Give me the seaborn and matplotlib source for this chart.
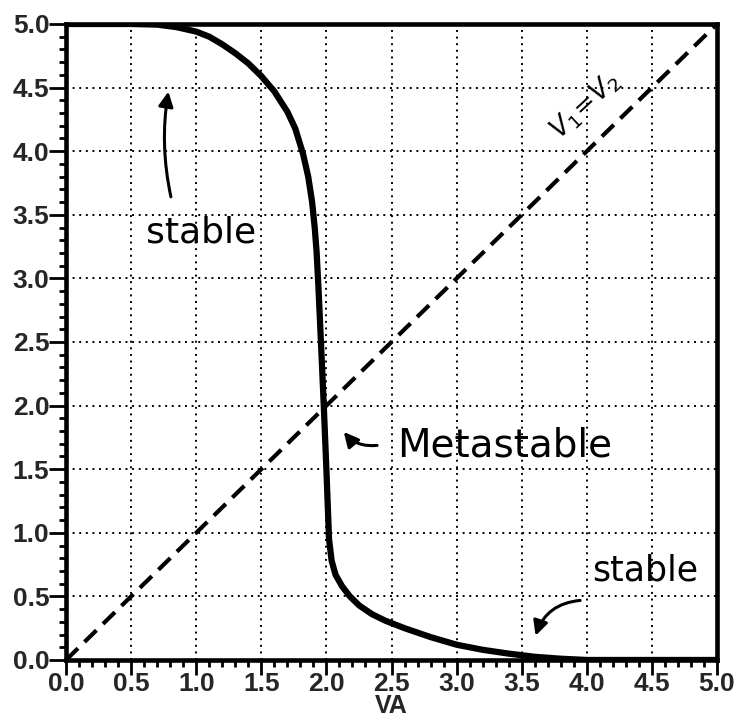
import matplotlib
matplotlib.use("Agg")
import matplotlib.pyplot as plt
from matplotlib.ticker import MultipleLocator
import seaborn as sns

# ---- data ----
curve_x = [0.0, 0.5, 0.7, 0.85, 1.0, 1.1, 1.2, 1.3, 1.4, 1.5, 1.6, 1.7, 1.76, 1.82,
           1.86, 1.89, 1.91, 1.925, 1.94, 1.96, 1.98, 2.0, 2.02, 2.04, 2.07, 2.12,
           2.18, 2.25, 2.35, 2.45, 2.6, 2.8, 3.0, 3.2, 3.4, 3.6, 3.8, 4.0, 5.0]
curve_y = [5.0, 5.0, 4.995, 4.975, 4.94, 4.9, 4.84, 4.77, 4.69, 4.59, 4.47, 4.31, 4.18, 3.98,
           3.8, 3.6, 3.4, 3.2, 2.9, 2.45, 1.99, 1.49, 0.95, 0.78, 0.67, 0.58,
           0.50, 0.43, 0.36, 0.31, 0.25, 0.18, 0.12, 0.08, 0.05, 0.025, 0.01, 0.0, 0.0]
diag_x = [0.0, 5.0]
diag_y = [0.0, 5.0]
tick_vals = [0.0, 0.5, 1.0, 1.5, 2.0, 2.5, 3.0, 3.5, 4.0, 4.5, 5.0]
tick_labels = ["0.0", "0.5", "1.0", "1.5", "2.0", "2.5", "3.0", "3.5", "4.0", "4.5", "5.0"]
x_label = "VA"

sns.set_style("white")
plt.rcParams['font.family'] = ['Liberation Sans', 'DejaVu Sans']

fig = plt.figure(figsize=(7.37, 7.18), dpi=100)
ax = fig.add_axes([0.0896, 0.0808, 0.8833, 0.8858])

sns.lineplot(x=diag_x, y=diag_y, ax=ax, color="black", linewidth=3.0,
             linestyle=(0, (4, 2.2)), sort=False, zorder=3)
sns.lineplot(x=curve_x, y=curve_y, ax=ax, color="black", linewidth=4.5,
             sort=False, zorder=4, solid_capstyle="round", solid_joinstyle="round")

ax.set_xlim(0, 5)
ax.set_ylim(0, 5)
ax.set_xticks(tick_vals)
ax.set_yticks(tick_vals)
ax.xaxis.set_minor_locator(MultipleLocator(0.1))
ax.yaxis.set_minor_locator(MultipleLocator(0.1))

narrow = ['Liberation Sans Narrow', 'Liberation Sans', 'DejaVu Sans']
ax.set_xticklabels(tick_labels, fontsize=19, fontweight="bold", family=narrow)
ax.set_yticklabels(tick_labels, fontsize=19, fontweight="bold")
ax.tick_params(axis="x", which="major", direction="out", length=11, width=2, color="black",
               pad=-2, bottom=True)
ax.tick_params(axis="y", which="major", direction="out", length=12, width=2, color="black",
               pad=0, left=True)
ax.tick_params(which="minor", direction="out", length=5, width=2, color="black",
               bottom=True, left=True)
ax.set_xlabel(x_label, fontsize=18, fontweight="bold", family=narrow, va="top")
ax.xaxis.set_label_coords(0.5, -0.054)

ax.grid(True, which="major", color="black", linewidth=1.4, linestyle=(0, (1, 2.4)))
for s in ax.spines.values():
    s.set_visible(True)
    s.set_color("black")
    s.set_linewidth(3.3)

hand = dict(color="black", family=['DejaVu Sans'], fontweight="normal")
ax.text(1.04, 3.36, "stable", fontsize=26, ha="center", va="center", **hand)
ax.text(3.37, 1.69, "Metastable", fontsize=28, ha="center", va="center", **hand)
ax.text(4.45, 0.70, "stable", fontsize=25, ha="center", va="center", **hand)
ax.text(3.99, 4.36, r"$V_1\!=\!V_2$", fontsize=19, ha="center", va="center",
        rotation=43, color="black")

arr = dict(arrowstyle="-|>", color="black", lw=2.2, mutation_scale=22)
ax.annotate("", xy=(0.79, 4.49), xytext=(0.81, 3.62),
            arrowprops=dict(connectionstyle="arc3,rad=-0.1", **arr))
ax.annotate("", xy=(2.12, 1.81), xytext=(2.41, 1.69),
            arrowprops=dict(connectionstyle="arc3,rad=-0.3", **arr))
ax.annotate("", xy=(3.60, 0.17), xytext=(3.97, 0.47),
            arrowprops=dict(connectionstyle="arc3,rad=0.35", **arr))

fig.savefig("out.png", dpi=100)
